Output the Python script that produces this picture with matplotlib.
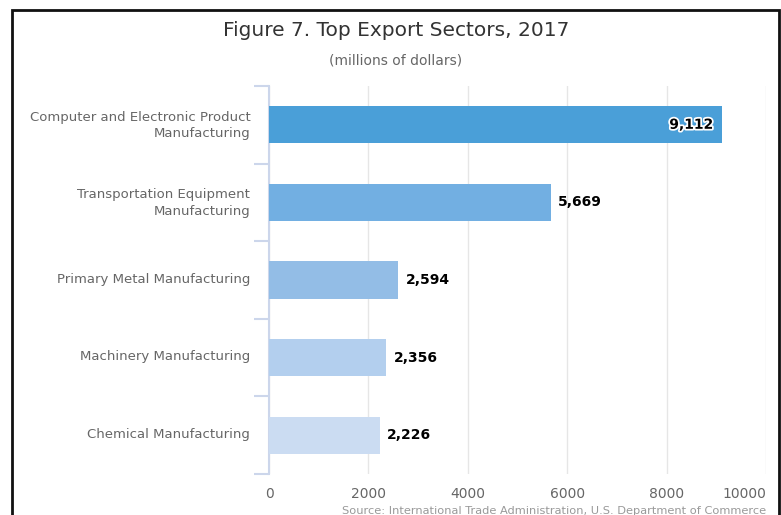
import matplotlib
matplotlib.use("Agg")
import matplotlib.pyplot as plt
import matplotlib.patheffects as pe
import matplotlib.transforms as mtransforms
from matplotlib.patches import Rectangle
import numpy as np

# 輸出額上位の業種（百万ドル）
sectors = [
    "Computer and Electronic Product\nManufacturing",
    "Transportation Equipment\nManufacturing",
    "Primary Metal Manufacturing",
    "Machinery Manufacturing",
    "Chemical Manufacturing",
]
values = [9112, 5669, 2594, 2356, 2226]
bar_colors = ["#4a9fd8", "#72afe2", "#93bde6", "#b3cfee", "#cbdcf2"]
x_ticks = [0, 2000, 4000, 6000, 8000, 10000]

W, H = 781, 515
fig = plt.figure(figsize=(W / 100, H / 100), dpi=100)
plt.rcParams['font.family'] = ['DejaVu Sans']

# 枠線
fig.patches.append(Rectangle((12 / W, -0.05), (779 - 12) / W, 1.05 - 10 / H,
                             transform=fig.transFigure, fill=False,
                             edgecolor="#111111", linewidth=2.0))

ax = fig.add_axes([269 / W, (H - 474) / H, (766 - 269) / W, (474 - 86) / H])

y = np.arange(len(values))
ax.barh(y, values, height=0.48, color=bar_colors, zorder=3)

ax.set_xlim(0, 10000)
ax.set_ylim(len(values) - 0.5, -0.5)
ax.set_xticks(x_ticks)
ax.set_xticklabels([str(v) for v in x_ticks], color="#666666", fontsize=10)
ax.tick_params(axis="x", length=0, pad=9)
# 右端のラベルは枠の内側に収める
ax.get_xticklabels()[-1].set_horizontalalignment("right")
ax.grid(axis="x", color="#e6e6e6", linewidth=1, zorder=0)

ax.set_yticks(y)
ax.set_yticklabels(sectors, color="#666666", fontsize=9.5, linespacing=1.35)
ax.tick_params(axis="y", which="major", length=0, pad=13.5)
# 項目名を少し上へずらす
shift = mtransforms.ScaledTranslation(0, 2.5 / 100, fig.dpi_scale_trans)
for lbl in ax.get_yticklabels():
    lbl.set_transform(lbl.get_transform() + shift)
ax.set_yticks(np.arange(-0.5, len(values), 1), minor=True)
ax.tick_params(axis="y", which="minor", length=11, width=1.5, color="#ccd6eb")

for s in ["top", "right", "bottom"]:
    ax.spines[s].set_visible(False)
ax.spines["left"].set_color("#ccd6eb")
ax.spines["left"].set_linewidth(1.5)

# 値ラベル
for i, v in enumerate(values):
    txt = f"{v:,}"
    if v > 8000:
        t = ax.text(v - 170, i, txt, ha="right", va="center", fontsize=10,
                    fontweight="bold", color="black", zorder=4)
        t.set_path_effects([pe.withStroke(linewidth=2.5, foreground="white")])
    else:
        ax.text(v + 150, i, txt, ha="left", va="center", fontsize=10,
                fontweight="bold", color="black", zorder=4)

fig.text(396 / W, 1 - 31 / H, "Figure 7. Top Export Sectors, 2017",
         ha="center", va="center", fontsize=14.5, color="#333333")
fig.text(396 / W, 1 - 61 / H, "(millions of dollars)",
         ha="center", va="center", fontsize=10, color="#666666")
fig.text(766 / W, 1 - 511 / H,
         "Source: International Trade Administration, U.S. Department of Commerce",
         ha="right", va="center", fontsize=8.2, color="#999999")

fig.savefig("out.png", dpi=100)
